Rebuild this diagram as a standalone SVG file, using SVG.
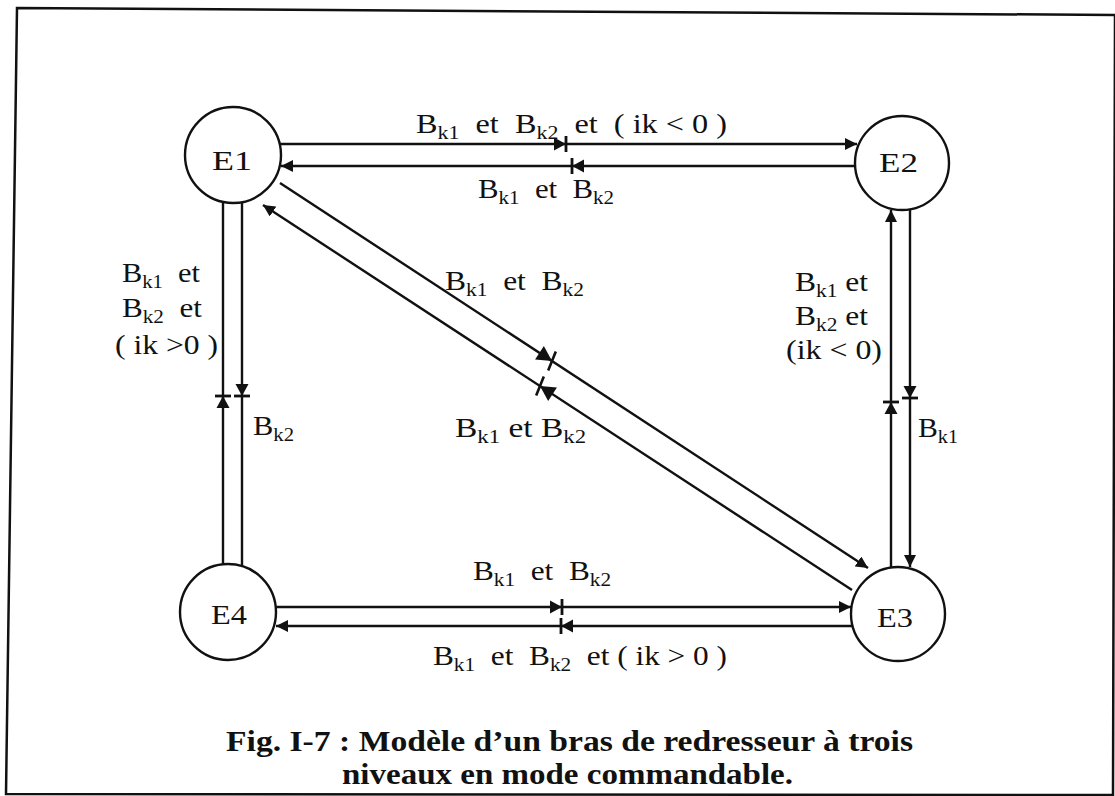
<svg xmlns="http://www.w3.org/2000/svg" width="1115" height="796" viewBox="0 0 1115 796">
<defs>
<style>
.ln{stroke:#111;stroke-width:2.4;fill:none}
.nd{stroke:#111;stroke-width:2.4;fill:none}
text{font-family:'Liberation Serif',Tinos,'Times New Roman',Times,serif;fill:#111}
.nt{font-size:28px}
.lb{font-size:28px;white-space:pre}
.sb{font-size:19px}
.cp{font-size:29px;font-weight:bold}
</style>
<marker id="ah" viewBox="0 0 10 10" refX="10" refY="5" markerWidth="5" markerHeight="5" orient="auto" markerUnits="strokeWidth">
<path d="M0,0 L10,5 L0,10 Z" fill="#111"/>
</marker>
<g id="mk"><path d="M-12,-6.5 L0,0 L-12,6.5 Z" fill="#111"/><path d="M0,-8 L0,8" stroke="#111" stroke-width="2.8"/></g>
<g id="mkd"><path d="M-15,-8 L0,0 L-15,8 Z" fill="#111"/><path d="M-2,-10 L2,10" stroke="#111" stroke-width="2.6"/></g>
</defs>
<rect width="1115" height="796" fill="#fff"/>
<polygon points="17,8 1115,15 1113,795 6,794" fill="none" stroke="#111" stroke-width="2.5"/>

<g id="connectors">
<line class="ln" x1="280" y1="144" x2="857" y2="144" marker-end="url(#ah)"/>
<line class="ln" x1="855" y1="166" x2="281" y2="166" marker-end="url(#ah)"/>
<line class="ln" x1="276" y1="607" x2="851" y2="607" marker-end="url(#ah)"/>
<line class="ln" x1="852" y1="626" x2="276" y2="626" marker-end="url(#ah)"/>
<line class="ln" x1="223" y1="202" x2="223" y2="564"/>
<line class="ln" x1="242" y1="202" x2="242" y2="566"/>
<line class="ln" x1="891" y1="567" x2="891" y2="210" marker-end="url(#ah)"/>
<line class="ln" x1="910" y1="209" x2="910" y2="567" marker-end="url(#ah)"/>
<line class="ln" x1="280" y1="183" x2="868" y2="568" marker-end="url(#ah)"/>
<line class="ln" x1="852" y1="590" x2="263" y2="205" marker-end="url(#ah)"/>
<use href="#mk" transform="translate(566,144)"/>
<use href="#mk" transform="translate(572,166) rotate(180)"/>
<use href="#mk" transform="translate(562,607)"/>
<use href="#mk" transform="translate(561,626) rotate(180)"/>
<use href="#mk" transform="translate(223,396) rotate(-90)"/>
<use href="#mk" transform="translate(242,396) rotate(90)"/>
<use href="#mk" transform="translate(891,402) rotate(-90)"/>
<use href="#mk" transform="translate(910,398) rotate(90)"/>
<use href="#mkd" transform="translate(552,361) rotate(33.3)"/>
<use href="#mkd" transform="translate(540,386) rotate(213.3)"/>
</g>

<g id="E1"><circle class="nd" cx="233" cy="155" r="48"/><text class="nt" x="212" y="170" textLength="40" lengthAdjust="spacingAndGlyphs">E1</text></g>
<g id="E2"><circle class="nd" cx="902" cy="163" r="47"/><text class="nt" x="879" y="172" textLength="39" lengthAdjust="spacingAndGlyphs">E2</text></g>
<g id="E3"><circle class="nd" cx="898" cy="614" r="47"/><text class="nt" x="877" y="627" textLength="36" lengthAdjust="spacingAndGlyphs">E3</text></g>
<g id="E4"><circle class="nd" cx="228" cy="612" r="48"/><text class="nt" x="211" y="624" textLength="36" lengthAdjust="spacingAndGlyphs">E4</text></g>

<g id="labels">
<text class="lb" x="416" y="133" textLength="311" lengthAdjust="spacingAndGlyphs">B<tspan class="sb" dy="6">k1</tspan><tspan dy="-6">  et  B</tspan><tspan class="sb" dy="6">k2</tspan><tspan dy="-6">  et  ( ik &lt; 0 )</tspan></text>
<text class="lb" x="478" y="198" textLength="136" lengthAdjust="spacingAndGlyphs">B<tspan class="sb" dy="6">k1</tspan><tspan dy="-6">  et  B</tspan><tspan class="sb" dy="6">k2</tspan></text>
<text class="lb" x="122" y="282" textLength="78" lengthAdjust="spacingAndGlyphs">B<tspan class="sb" dy="6">k1</tspan><tspan dy="-6">  et</tspan></text>
<text class="lb" x="122" y="317" textLength="80" lengthAdjust="spacingAndGlyphs">B<tspan class="sb" dy="6">k2</tspan><tspan dy="-6">  et</tspan></text>
<text class="lb" x="115" y="354" textLength="103" lengthAdjust="spacingAndGlyphs">( ik &gt;0 )</text>
<text class="lb" x="253" y="435" textLength="41" lengthAdjust="spacingAndGlyphs">B<tspan class="sb" dy="6">k2</tspan></text>
<text class="lb" x="445" y="290" textLength="139" lengthAdjust="spacingAndGlyphs">B<tspan class="sb" dy="6">k1</tspan><tspan dy="-6">  et  B</tspan><tspan class="sb" dy="6">k2</tspan></text>
<text class="lb" x="455" y="437" textLength="131" lengthAdjust="spacingAndGlyphs">B<tspan class="sb" dy="6">k1</tspan><tspan dy="-6"> et B</tspan><tspan class="sb" dy="6">k2</tspan></text>
<text class="lb" x="795" y="291" textLength="73" lengthAdjust="spacingAndGlyphs">B<tspan class="sb" dy="6">k1</tspan><tspan dy="-6"> et</tspan></text>
<text class="lb" x="795" y="325" textLength="73" lengthAdjust="spacingAndGlyphs">B<tspan class="sb" dy="6">k2</tspan><tspan dy="-6"> et</tspan></text>
<text class="lb" x="786" y="359" textLength="96" lengthAdjust="spacingAndGlyphs">(ik &lt; 0)</text>
<text class="lb" x="918" y="437" textLength="40" lengthAdjust="spacingAndGlyphs">B<tspan class="sb" dy="6">k1</tspan></text>
<text class="lb" x="473" y="580" textLength="138" lengthAdjust="spacingAndGlyphs">B<tspan class="sb" dy="6">k1</tspan><tspan dy="-6">  et  B</tspan><tspan class="sb" dy="6">k2</tspan></text>
<text class="lb" x="433" y="665" textLength="294" lengthAdjust="spacingAndGlyphs">B<tspan class="sb" dy="6">k1</tspan><tspan dy="-6">  et  B</tspan><tspan class="sb" dy="6">k2</tspan><tspan dy="-6">  et ( ik &gt; 0 )</tspan></text>
</g>

<g id="caption">
<text class="cp" x="226" y="751" textLength="687" lengthAdjust="spacingAndGlyphs">Fig. I-7 : Modèle d’un bras de redresseur à trois</text>
<text class="cp" x="342" y="784" textLength="451" lengthAdjust="spacingAndGlyphs">niveaux en mode commandable.</text>
</g>
</svg>
